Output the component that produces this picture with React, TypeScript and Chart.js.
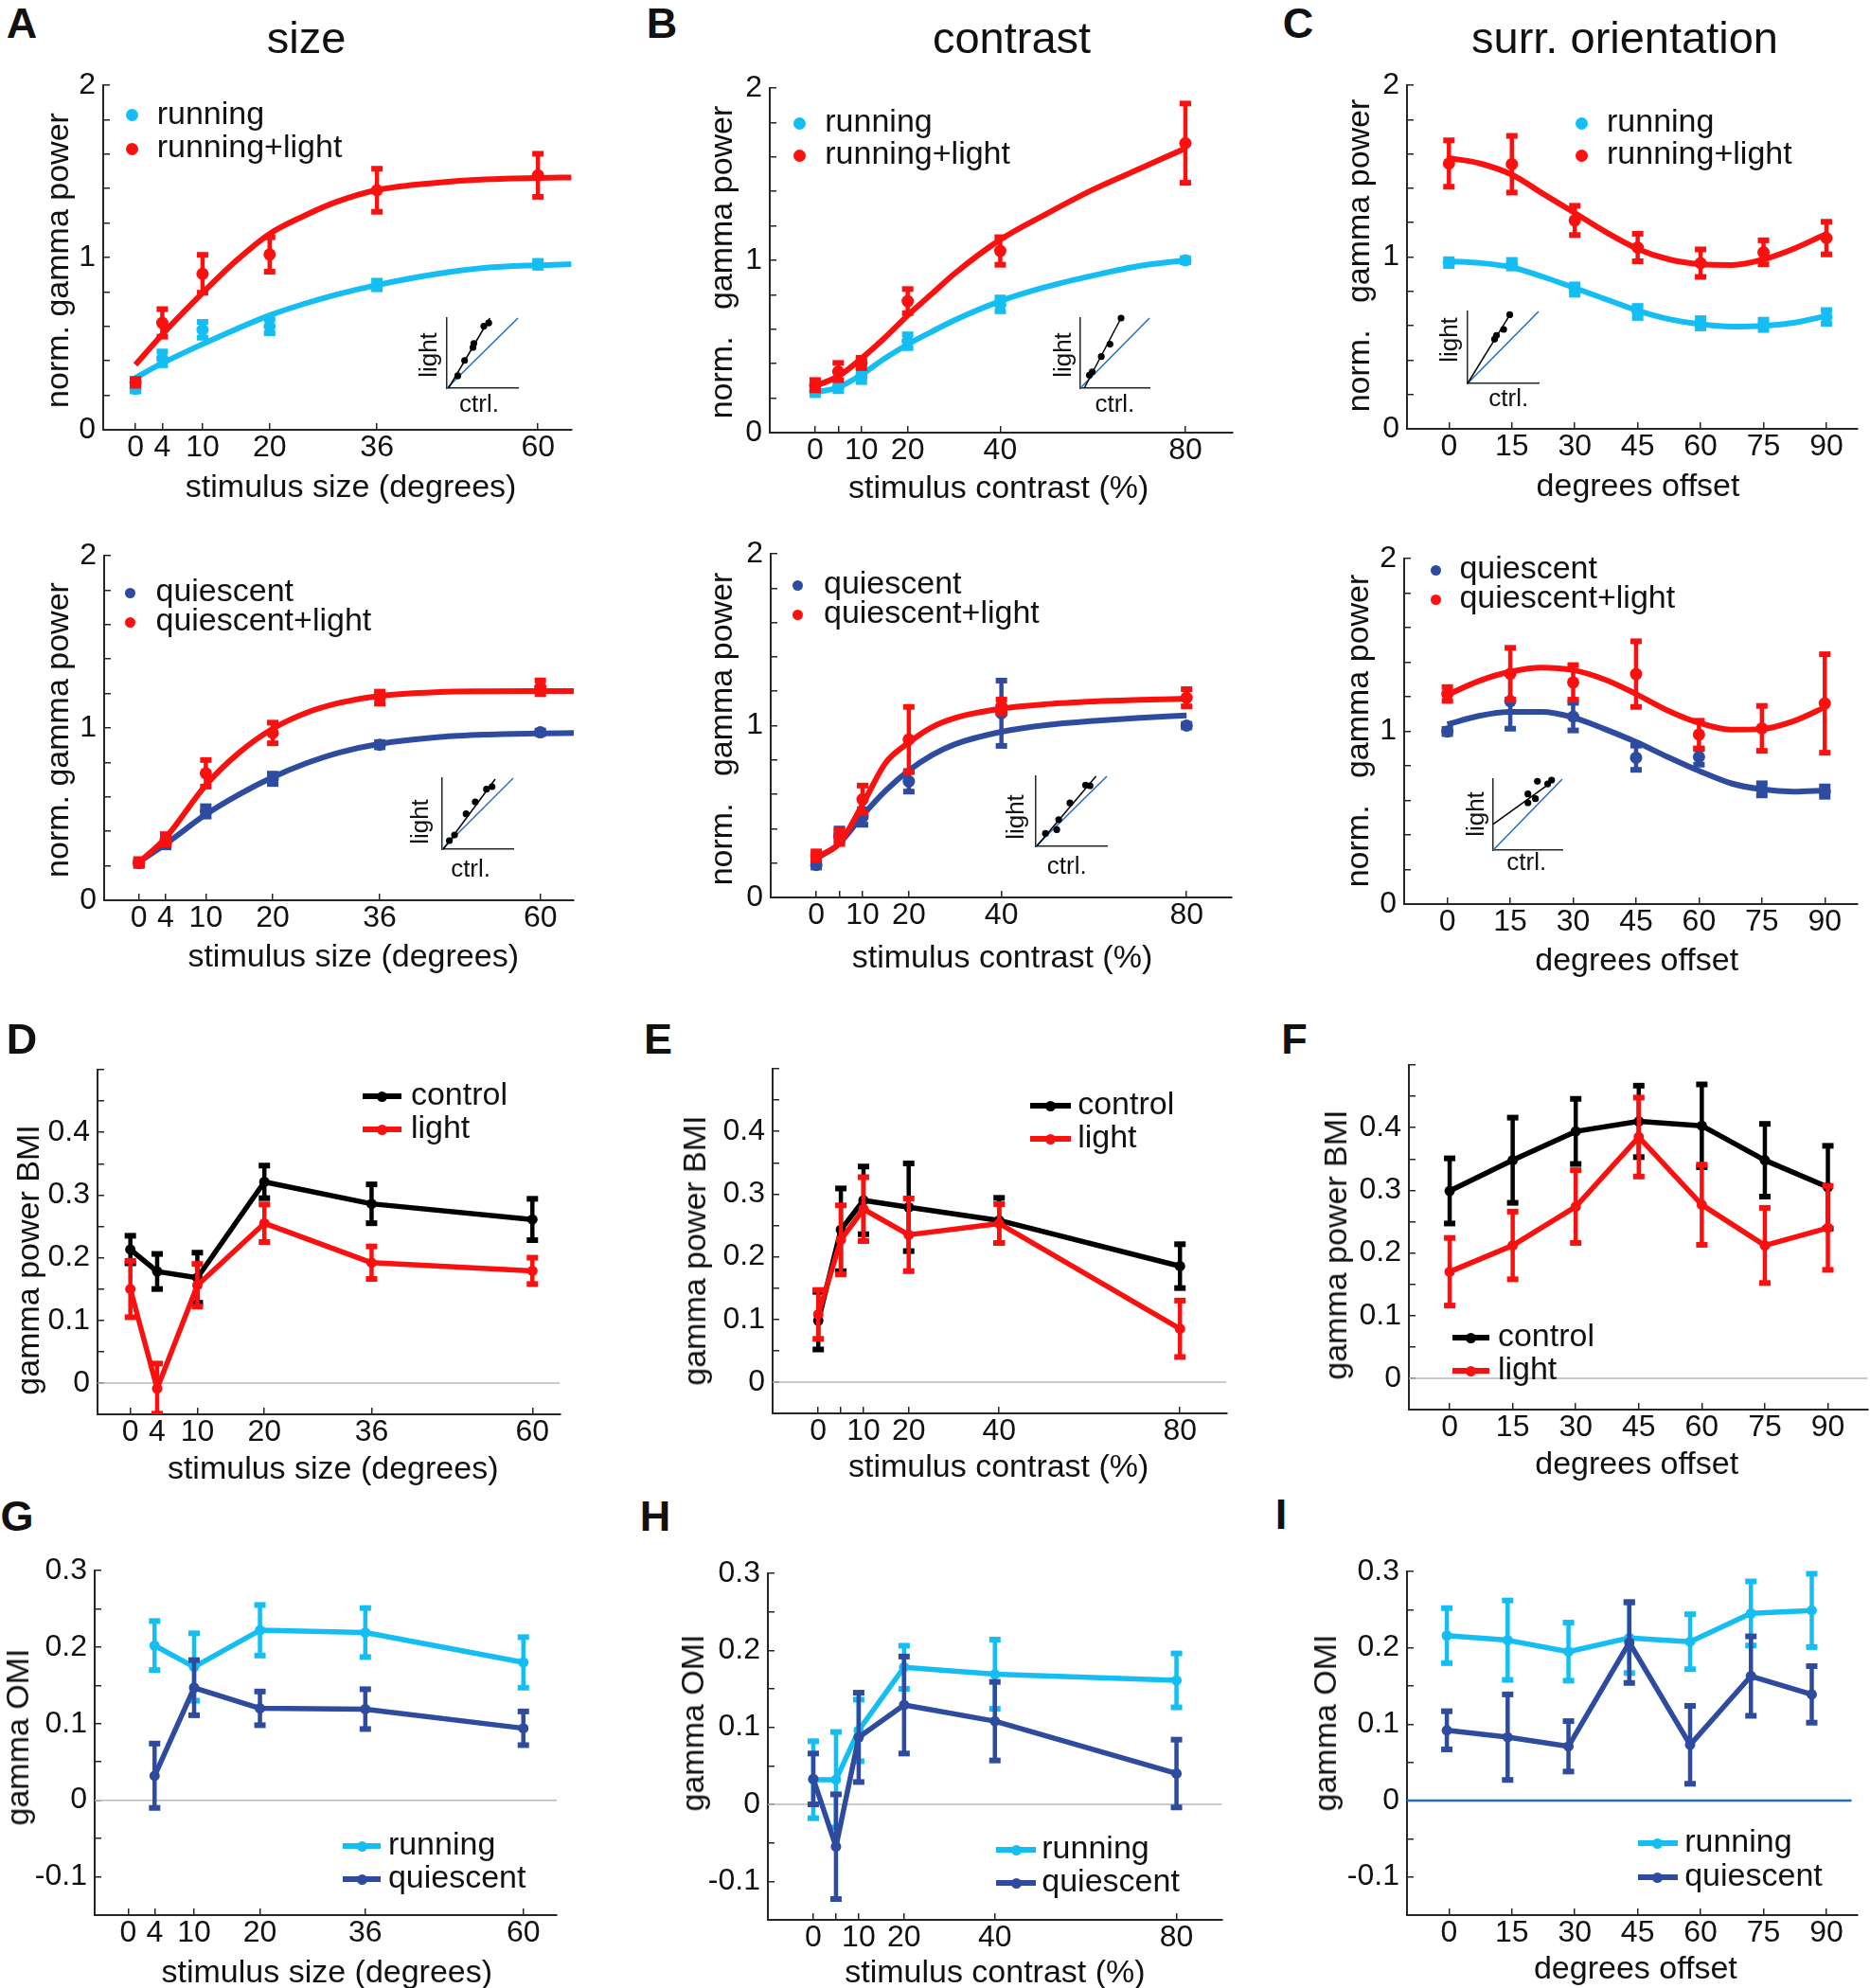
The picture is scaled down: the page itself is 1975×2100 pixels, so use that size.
import React, { useEffect, useRef } from 'react';
import { Chart, registerables } from 'chart.js';

Chart.register(...registerables);

const FONT = "'Liberation Sans', Arial, Helvetica, sans-serif";
const CYAN = '#14bef2';
const RED = '#fb1010';
const BLUE = '#2f4b9f';
const BLACK = '#000000';
const AXIS = '#262626';
const ZERO_GRAY = '#b8b8b8';
const UNITY_BLUE = '#1e6ec4';

// ---------------- data ----------------
const sizeX = [0, 4, 10, 20, 36, 60];
const sizeTickLabels = ['0', '4', '10', '20', '36', '60'];
const contrastX = [0, 5, 10, 20, 40, 80];
const contrastTickLabels = ['0', '', '10', '20', '40', '80'];
const orientX = [0, 15, 30, 45, 60, 75, 90];
const orientTickLabels = ['0', '15', '30', '45', '60', '75', '90'];
const zeroLine = [0, 0];

// A: running, size
const runSize = [0.237, 0.414, 0.58, 0.6, 0.84, 0.96];
const runSizeErr = [0.015, 0.04, 0.046, 0.04, 0.025, 0.02];
const runLightSize = [0.275, 0.62, 0.905, 1.017, 1.39, 1.477];
const runLightSizeErr = [0.02, 0.08, 0.11, 0.1, 0.125, 0.125];
const fitSizeX = [0, 4, 10, 15, 20, 25, 30, 36, 45, 52, 60, 65];
const runSizeFit = [0.302, 0.386, 0.497, 0.584, 0.664, 0.729, 0.785, 0.84, 0.905, 0.939, 0.955, 0.961];
const runLightSizeFit = [0.377, 0.553, 0.794, 0.98, 1.137, 1.239, 1.323, 1.391, 1.434, 1.453, 1.462, 1.464];

// B: running, contrast
const runContrast = [0.237, 0.26, 0.323, 0.53, 0.744, 1.0];
const runContrastErr = [0.02, 0.02, 0.03, 0.04, 0.04, 0.012];
const runLightContrast = [0.275, 0.354, 0.404, 0.763, 1.054, 1.68];
const runLightContrastErr = [0.03, 0.05, 0.03, 0.07, 0.08, 0.23];
const fitContrastX = [0, 5, 10, 15, 20, 25, 30, 40, 50, 60, 70, 80];
const runContrastFit = [0.234, 0.262, 0.336, 0.429, 0.512, 0.583, 0.651, 0.763, 0.846, 0.911, 0.967, 1.0];
const runLightContrastFit = [0.27, 0.327, 0.43, 0.549, 0.68, 0.8, 0.92, 1.12, 1.27, 1.41, 1.53, 1.65];

// C: running, surround orientation
const runOrient = [0.967, 0.958, 0.81, 0.68, 0.614, 0.605, 0.651];
const runOrientErr = [0.02, 0.025, 0.03, 0.035, 0.03, 0.03, 0.04];
const runLightOrient = [1.544, 1.54, 1.213, 1.055, 0.964, 1.027, 1.11];
const runLightOrientErr = [0.135, 0.165, 0.085, 0.08, 0.08, 0.07, 0.095];
const fitOrientX = [0, 7.5, 15, 22.5, 30, 37.5, 45, 52.5, 60, 67.5, 75, 82.5, 90];
const runOrientFit = [0.975, 0.965, 0.94, 0.884, 0.819, 0.753, 0.688, 0.638, 0.608, 0.595, 0.599, 0.618, 0.657];
const runLightOrientFit = [1.576, 1.544, 1.479, 1.367, 1.256, 1.144, 1.047, 0.986, 0.958, 0.953, 0.986, 1.051, 1.135];

// A2: quiescent, size
const quiSize = [0.216, 0.327, 0.516, 0.705, 0.903, 0.975];
const quiSizeErr = [0.012, 0.02, 0.03, 0.03, 0.015, 0.01];
const quiLightSize = [0.219, 0.354, 0.737, 0.971, 1.176, 1.236];
const quiLightSizeErr = [0.02, 0.03, 0.077, 0.06, 0.035, 0.04];
const quiSizeFit = [0.223, 0.327, 0.498, 0.615, 0.714, 0.795, 0.858, 0.908, 0.948, 0.962, 0.969, 0.971];
const quiLightSizeFit = [0.219, 0.363, 0.669, 0.858, 0.996, 1.088, 1.146, 1.187, 1.209, 1.213, 1.214, 1.214];

// B2: quiescent, contrast
const quiContrast = [0.189, 0.366, 0.468, 0.676, 1.072, 1.0];
const quiContrastErr = [0.015, 0.035, 0.045, 0.06, 0.19, 0.01];
const quiLightContrast = [0.243, 0.351, 0.571, 0.919, 1.112, 1.162];
const quiLightContrastErr = [0.025, 0.04, 0.08, 0.19, 0.04, 0.05];
const quiContrastFit = [0.225, 0.315, 0.477, 0.622, 0.739, 0.829, 0.892, 0.964, 1.004, 1.027, 1.045, 1.059];
const quiLightContrastFit = [0.234, 0.315, 0.541, 0.784, 0.901, 0.991, 1.045, 1.099, 1.126, 1.141, 1.15, 1.157];

// C2: quiescent, surround orientation
const quiOrient = [0.999, 1.175, 1.085, 0.847, 0.852, 0.664, 0.651];
const quiOrientErr = [0.015, 0.16, 0.08, 0.07, 0.045, 0.035, 0.03];
const quiLightOrient = [1.216, 1.333, 1.283, 1.331, 0.981, 1.017, 1.161];
const quiLightOrientErr = [0.04, 0.15, 0.1, 0.19, 0.08, 0.13, 0.285];
const quiOrientFit = [1.04, 1.089, 1.112, 1.112, 1.08, 1.013, 0.938, 0.852, 0.771, 0.7, 0.664, 0.651, 0.658];
const quiLightOrientFit = [1.211, 1.291, 1.345, 1.369, 1.354, 1.3, 1.216, 1.121, 1.049, 1.01, 1.013, 1.058, 1.139];

// D: gamma power BMI vs size
const bmiSizeCtrl = [0.213, 0.178, 0.168, 0.321, 0.286, 0.261];
const bmiSizeCtrlErr = [0.022, 0.028, 0.04, 0.026, 0.031, 0.033];
const bmiSizeLight = [0.15, -0.009, 0.156, 0.255, 0.192, 0.179];
const bmiSizeLightErr = [0.045, 0.04, 0.034, 0.03, 0.026, 0.021];

// E: gamma power BMI vs contrast
const bmiContrastCtrl = [0.098, 0.243, 0.29, 0.279, 0.258, 0.185];
const bmiContrastCtrlErr = [0.046, 0.066, 0.054, 0.07, 0.036, 0.035];
const bmiContrastLight = [0.108, 0.227, 0.276, 0.235, 0.253, 0.085];
const bmiContrastLightErr = [0.039, 0.055, 0.051, 0.058, 0.031, 0.045];

// F: gamma power BMI vs orientation
const bmiOrientCtrl = [0.299, 0.348, 0.394, 0.41, 0.403, 0.348, 0.305];
const bmiOrientCtrlErr = [0.052, 0.068, 0.052, 0.057, 0.066, 0.058, 0.066];
const bmiOrientLight = [0.17, 0.212, 0.274, 0.385, 0.277, 0.212, 0.24];
const bmiOrientLightErr = [0.054, 0.054, 0.058, 0.063, 0.064, 0.06, 0.067];

// G: gamma OMI vs size
const omiSizeX = [4, 10, 20, 36, 60];
const omiSizeRun = [0.202, 0.174, 0.222, 0.219, 0.18];
const omiSizeRunErr = [0.032, 0.044, 0.033, 0.032, 0.033];
const omiSizeQui = [0.032, 0.147, 0.12, 0.119, 0.094];
const omiSizeQuiErr = [0.042, 0.036, 0.022, 0.026, 0.022];

// H: gamma OMI vs contrast
const omiContrastRun = [0.032, 0.032, 0.096, 0.178, 0.169, 0.161];
const omiContrastRunErr = [0.05, 0.062, 0.04, 0.028, 0.045, 0.035];
const omiContrastQui = [0.033, -0.055, 0.087, 0.129, 0.108, 0.04];
const omiContrastQuiErr = [0.033, 0.068, 0.058, 0.063, 0.051, 0.044];

// I: gamma OMI vs orientation
const omiOrientX = [-0.5, 14, 28.5, 43, 57.5, 72, 86.5];
const omiOrientRun = [0.216, 0.21, 0.195, 0.213, 0.208, 0.245, 0.249];
const omiOrientRunErr = [0.036, 0.052, 0.038, 0.046, 0.036, 0.042, 0.048];
const omiOrientQui = [0.092, 0.083, 0.071, 0.207, 0.073, 0.163, 0.139];
const omiOrientQuiErr = [0.025, 0.056, 0.033, 0.053, 0.051, 0.052, 0.037];
const omiZeroX = [-10, 96];

// insets (light vs ctrl., normalised units)
const insetAX = [0.153, 0.249, 0.367, 0.379, 0.52, 0.588];
const insetAY = [0.177, 0.395, 0.581, 0.637, 0.884, 0.93];
const insetAFitX = [0.023, 0.605];
const insetAFitY = [0, 1];
const insetBX = [0.131, 0.171, 0.303, 0.429, 0.589];
const insetBY = [0.186, 0.233, 0.451, 0.628, 1.0];
const insetBFitX = [0.057, 0.589];
const insetBFitY = [0, 1];
const insetCX = [0.379, 0.407, 0.508, 0.593];
const insetCY = [0.614, 0.668, 0.75, 0.955];
const insetCFitX = [0, 0.605];
const insetCFitY = [0, 0.968];
const insetA2X = [0.101, 0.174, 0.337, 0.466, 0.624, 0.702];
const insetA2Y = [0.12, 0.2, 0.498, 0.667, 0.844, 0.88];
const insetA2FitX = [0.017, 0.747];
const insetA2FitY = [0, 0.987];
const insetB2X = [0.136, 0.294, 0.322, 0.48, 0.7, 0.763];
const insetB2Y = [0.184, 0.238, 0.381, 0.619, 0.874, 0.865];
const insetB2FitX = [0.011, 0.847];
const insetB2FitY = [0, 1];
const insetC2X = [0.503, 0.503, 0.611, 0.64, 0.789, 0.846];
const insetC2Y = [0.791, 0.667, 0.724, 0.969, 0.933, 0.987];
const insetC2FitX = [0, 0.857];
const insetC2FitY = [0.364, 0.964];
const unityLine = [0, 1];

// ---------------- plugin ----------------
const errorBarPlugin = {
  id: 'errbars',
  afterDatasetDraw(chart: any, args: any, opts: any) {
    const ds: any = chart.data.datasets[args.index];
    const err: number[] | undefined = ds.errorBars;
    if (!err) return;
    const { ctx, chartArea } = chart;
    const xs = chart.scales.x;
    const ys = chart.scales.y;
    ctx.save();
    ctx.beginPath();
    ctx.rect(chartArea.left, chartArea.top - 12, chartArea.right - chartArea.left, chartArea.bottom - chartArea.top + 12);
    ctx.clip();
    ctx.strokeStyle = ds.borderColor;
    ctx.fillStyle = ds.borderColor;
    ctx.lineWidth = opts.width || 4;
    const cw = opts.capW || 8;
    const ch = opts.capH || 5;
    ds.data.forEach((p: any, i: number) => {
      const e = err[i];
      if (!e) return;
      const px = xs.getPixelForValue(p.x);
      const yTop = ys.getPixelForValue(p.y + e);
      const yBot = ys.getPixelForValue(p.y - e);
      ctx.beginPath();
      ctx.moveTo(px, yTop);
      ctx.lineTo(px, yBot);
      ctx.stroke();
      ctx.fillRect(px - cw / 2, yTop - ch / 2, cw, ch);
      ctx.fillRect(px - cw / 2, yBot - ch / 2, cw, ch);
    });
    ctx.restore();
  },
};

// ---------------- panel definitions ----------------
type Kind = 'points' | 'line' | 'fit' | 'ref';
interface Series { x: number[]; y: number[]; err?: number[]; color: string; kind: Kind; width?: number; radius?: number }
interface PanelDef {
  rect: [number, number, number, number];
  xr: [number, number];
  yr: [number, number];
  xTicks: number[];
  xTickLabels: string[];
  yStep: number;
  yKind: 'int' | 'dec';
  yLabelMax: number;
  series: Series[];
}

const topPanel = (rect: [number, number, number, number], xr: [number, number], xTicks: number[], xTickLabels: string[], s: Series[]): PanelDef => ({
  rect, xr, yr: [0, 2], xTicks, xTickLabels, yStep: 0.2, yKind: 'int', yLabelMax: 2, series: s,
});

const PR_TOP = 6.5;
const PR_LOW = 5.5;

const panels: PanelDef[] = [
  topPanel([108.8, 82.6, 603.4, 453.5], [-4.81, 65], sizeX, sizeTickLabels, [
    { x: sizeX, y: runLightSize, err: runLightSizeErr, color: RED, kind: 'points', radius: PR_TOP },
    { x: fitSizeX, y: runLightSizeFit, color: RED, kind: 'fit', width: 6 },
    { x: sizeX, y: runSize, err: runSizeErr, color: CYAN, kind: 'points', radius: PR_TOP },
    { x: fitSizeX, y: runSizeFit, color: CYAN, kind: 'fit', width: 6 },
  ]),
  topPanel([813.1, 85.7, 1301.4, 456.6], [-9.8, 90.1], contrastX, contrastTickLabels, [
    { x: contrastX, y: runLightContrast, err: runLightContrastErr, color: RED, kind: 'points', radius: PR_TOP },
    { x: fitContrastX, y: runLightContrastFit, color: RED, kind: 'fit', width: 6 },
    { x: contrastX, y: runContrast, err: runContrastErr, color: CYAN, kind: 'points', radius: PR_TOP },
    { x: fitContrastX, y: runContrastFit, color: CYAN, kind: 'fit', width: 6 },
  ]),
  topPanel([1485.8, 82.6, 1962, 452.5], [-10, 97.5], orientX, orientTickLabels, [
    { x: orientX, y: runLightOrient, err: runLightOrientErr, color: RED, kind: 'points', radius: PR_TOP },
    { x: fitOrientX, y: runLightOrientFit, color: RED, kind: 'fit', width: 6 },
    { x: orientX, y: runOrient, err: runOrientErr, color: CYAN, kind: 'points', radius: PR_TOP },
    { x: fitOrientX, y: runOrientFit, color: CYAN, kind: 'fit', width: 6 },
  ]),
  topPanel([110, 580, 606, 951], [-5.2, 65], sizeX, sizeTickLabels, [
    { x: sizeX, y: quiLightSize, err: quiLightSizeErr, color: RED, kind: 'points', radius: PR_TOP },
    { x: fitSizeX, y: quiLightSizeFit, color: RED, kind: 'fit', width: 6 },
    { x: sizeX, y: quiSize, err: quiSizeErr, color: BLUE, kind: 'points', radius: PR_TOP },
    { x: fitSizeX, y: quiSizeFit, color: BLUE, kind: 'fit', width: 6 },
  ]),
  topPanel([814.3, 578, 1301.4, 948], [-9.84, 89.8], contrastX, contrastTickLabels, [
    { x: contrastX, y: quiLightContrast, err: quiLightContrastErr, color: RED, kind: 'points', radius: PR_TOP },
    { x: fitContrastX, y: quiLightContrastFit, color: RED, kind: 'fit', width: 6 },
    { x: contrastX, y: quiContrast, err: quiContrastErr, color: BLUE, kind: 'points', radius: PR_TOP },
    { x: fitContrastX, y: quiContrastFit, color: BLUE, kind: 'fit', width: 6 },
  ]),
  topPanel([1483.2, 583, 1962, 955], [-10.3, 97.8], orientX, orientTickLabels, [
    { x: orientX, y: quiLightOrient, err: quiLightOrientErr, color: RED, kind: 'points', radius: PR_TOP },
    { x: fitOrientX, y: quiLightOrientFit, color: RED, kind: 'fit', width: 6 },
    { x: orientX, y: quiOrient, err: quiOrientErr, color: BLUE, kind: 'points', radius: PR_TOP },
    { x: fitOrientX, y: quiOrientFit, color: BLUE, kind: 'fit', width: 6 },
  ]),
  {
    rect: [102.5, 1123, 590.8, 1494], xr: [-4.9, 64.1], yr: [-0.05, 0.5], xTicks: sizeX, xTickLabels: sizeTickLabels,
    yStep: 0.05, yKind: 'dec', yLabelMax: 0.4,
    series: [
      { x: sizeX, y: bmiSizeLight, err: bmiSizeLightErr, color: RED, kind: 'line', width: 5.5, radius: PR_LOW },
      { x: sizeX, y: bmiSizeCtrl, err: bmiSizeCtrlErr, color: BLACK, kind: 'line', width: 5.5, radius: PR_LOW },
      { x: [-4.9, 64.1], y: zeroLine, color: ZERO_GRAY, kind: 'ref', width: 1.5 },
    ],
  },
  {
    rect: [815.6, 1122, 1295, 1493], xr: [-10.1, 90.3], yr: [-0.05, 0.5], xTicks: contrastX, xTickLabels: contrastTickLabels,
    yStep: 0.05, yKind: 'dec', yLabelMax: 0.4,
    series: [
      { x: contrastX, y: bmiContrastLight, err: bmiContrastLightErr, color: RED, kind: 'line', width: 5.5, radius: PR_LOW },
      { x: contrastX, y: bmiContrastCtrl, err: bmiContrastCtrlErr, color: BLACK, kind: 'line', width: 5.5, radius: PR_LOW },
      { x: [-10.1, 90.3], y: zeroLine, color: ZERO_GRAY, kind: 'ref', width: 1.5 },
    ],
  },
  {
    rect: [1488.3, 1118, 1973, 1489], xr: [-9.7, 99.5], yr: [-0.05, 0.5], xTicks: orientX, xTickLabels: orientTickLabels,
    yStep: 0.05, yKind: 'dec', yLabelMax: 0.4,
    series: [
      { x: orientX, y: bmiOrientLight, err: bmiOrientLightErr, color: RED, kind: 'line', width: 5.5, radius: PR_LOW },
      { x: orientX, y: bmiOrientCtrl, err: bmiOrientCtrlErr, color: BLACK, kind: 'line', width: 5.5, radius: PR_LOW },
      { x: [-9.7, 99.5], y: zeroLine, color: ZERO_GRAY, kind: 'ref', width: 1.5 },
    ],
  },
  {
    rect: [100, 1652, 588.2, 2023], xr: [-5.1, 65.1], yr: [-0.15, 0.3], xTicks: sizeX, xTickLabels: sizeTickLabels,
    yStep: 0.05, yKind: 'dec', yLabelMax: 0.3,
    series: [
      { x: omiSizeX, y: omiSizeQui, err: omiSizeQuiErr, color: BLUE, kind: 'line', width: 5.5, radius: PR_LOW },
      { x: omiSizeX, y: omiSizeRun, err: omiSizeRunErr, color: CYAN, kind: 'line', width: 5.5, radius: PR_LOW },
      { x: [-5.1, 65.1], y: zeroLine, color: ZERO_GRAY, kind: 'ref', width: 1.5 },
    ],
  },
  {
    rect: [810.5, 1655, 1290, 2028], xr: [-10, 90], yr: [-0.15, 0.3], xTicks: contrastX, xTickLabels: contrastTickLabels,
    yStep: 0.05, yKind: 'dec', yLabelMax: 0.3,
    series: [
      { x: contrastX, y: omiContrastQui, err: omiContrastQuiErr, color: BLUE, kind: 'line', width: 5.5, radius: PR_LOW },
      { x: contrastX, y: omiContrastRun, err: omiContrastRunErr, color: CYAN, kind: 'line', width: 5.5, radius: PR_LOW },
      { x: [-10, 90], y: zeroLine, color: ZERO_GRAY, kind: 'ref', width: 1.5 },
    ],
  },
  {
    rect: [1485.8, 1653, 1962, 2023], xr: [-10, 97.5], yr: [-0.15, 0.3], xTicks: orientX, xTickLabels: orientTickLabels,
    yStep: 0.05, yKind: 'dec', yLabelMax: 0.3,
    series: [
      { x: omiOrientX, y: omiOrientQui, err: omiOrientQuiErr, color: BLUE, kind: 'line', width: 5.5, radius: PR_LOW },
      { x: omiOrientX, y: omiOrientRun, err: omiOrientRunErr, color: CYAN, kind: 'line', width: 5.5, radius: PR_LOW },
      { x: omiZeroX, y: zeroLine, color: UNITY_BLUE, kind: 'ref', width: 2.5 },
    ],
  },
];

interface InsetDef { rect: [number, number, number, number]; px: number[]; py: number[]; fx: number[]; fy: number[] }
const insets: InsetDef[] = [
  { rect: [471.8, 335.7, 546.5, 410.1], px: insetAX, py: insetAY, fx: insetAFitX, fy: insetAFitY },
  { rect: [1140.7, 335.7, 1214.1, 410.1], px: insetBX, py: insetBY, fx: insetBFitX, fy: insetBFitY },
  { rect: [1550.3, 328.5, 1624.9, 404.9], px: insetCX, py: insetCY, fx: insetCFitX, fy: insetCFitY },
  { rect: [466.8, 822, 541.4, 897], px: insetA2X, py: insetA2Y, fx: insetA2FitX, fy: insetA2FitY },
  { rect: [1093.9, 820, 1168.5, 894], px: insetB2X, py: insetB2Y, fx: insetB2FitX, fy: insetB2FitY },
  { rect: [1576.9, 823, 1650.3, 898], px: insetC2X, py: insetC2Y, fx: insetC2FitX, fy: insetC2FitY },
];

// ---------------- components ----------------
const YW = 80;
const XH = 54;
const PT = 24;
const PR = 10;
const TICK_FONT = { family: FONT, size: 32, lineHeight: 1 };

function PanelChart({ def }: { def: PanelDef }) {
  const ref = useRef<HTMLCanvasElement>(null);
  const [L, T, R, B] = def.rect;
  const w = Math.round(YW + (R - L) + PR);
  const h = Math.round(PT + (B - T) + XH);
  useEffect(() => {
    const datasets = def.series.map((s) => ({
      data: s.x.map((x, i) => ({ x, y: s.y[i] })),
      borderColor: s.color,
      backgroundColor: s.color,
      pointBackgroundColor: s.color,
      pointBorderWidth: 0,
      pointRadius: s.kind === 'points' || s.kind === 'line' ? s.radius || 5 : 0,
      pointHoverRadius: 0,
      showLine: s.kind !== 'points',
      borderWidth: s.width || 0,
      tension: s.kind === 'fit' ? 0.4 : 0,
      cubicInterpolationMode: s.kind === 'fit' ? 'monotone' : 'default',
      borderJoinStyle: 'round',
      errorBars: s.err,
    }));
    const yLabel = (v: number) => {
      if (v > def.yLabelMax + 1e-9) return '';
      if (def.yKind === 'int') {
        const r = Math.round(v);
        return Math.abs(v - r) < 1e-6 ? String(r) : '';
      }
      const r10 = Math.round(v * 10);
      return Math.abs(v * 10 - r10) < 1e-6 ? String(r10 / 10) : '';
    };
    const gridOpts = { drawOnChartArea: false, drawTicks: true, tickLength: -7, color: AXIS, lineWidth: 1.5 };
    const chart = new Chart(ref.current as HTMLCanvasElement, {
      type: 'scatter',
      data: { datasets: datasets as any },
      options: {
        animation: false,
        responsive: false,
        devicePixelRatio: 1,
        events: [],
        layout: { padding: { left: 0, top: PT, right: w - YW - (R - L), bottom: 0 }, autoPadding: false },
        plugins: {
          legend: { display: false },
          tooltip: { enabled: false },
          errbars: { width: 4.5, capW: 12, capH: 6 },
        } as any,
        scales: {
          x: {
            type: 'linear',
            min: def.xr[0],
            max: def.xr[1],
            afterBuildTicks: (sc: any) => {
              sc.ticks = def.xTicks.map((v) => ({ value: v }));
            },
            afterFit: (sc: any) => {
              sc.height = h - PT - (B - T);
            },
            grid: gridOpts,
            border: { display: true, color: AXIS, width: 2 },
            ticks: {
              autoSkip: false,
              maxRotation: 0,
              minRotation: 0,
              padding: 10,
              color: '#111',
              font: TICK_FONT,
              callback: (_v: any, i: number) => def.xTickLabels[i] ?? '',
            },
          },
          y: {
            type: 'linear',
            min: def.yr[0],
            max: def.yr[1],
            afterFit: (sc: any) => {
              sc.width = YW;
            },
            grid: gridOpts,
            border: { display: true, color: AXIS, width: 2 },
            ticks: {
              stepSize: def.yStep,
              autoSkip: false,
              padding: 15,
              color: '#111',
              font: TICK_FONT,
              callback: (v: any) => yLabel(Number(v)),
            },
          },
        } as any,
      },
      plugins: [errorBarPlugin as any],
    });
    return () => chart.destroy();
  }, []);
  return (
    <canvas
      ref={ref}
      width={w}
      height={h}
      style={{ position: 'absolute', left: L - YW, top: T - PT, width: w, height: h }}
    />
  );
}

function InsetChart({ def }: { def: InsetDef }) {
  const ref = useRef<HTMLCanvasElement>(null);
  const P = 6;
  const [L, T, R, B] = def.rect;
  const w = Math.round(R - L + 2 * P);
  const h = Math.round(B - T + 2 * P);
  useEffect(() => {
    const axisOpts = (isX: boolean) => ({
      type: 'linear',
      min: 0,
      max: 1,
      display: true,
      grid: { display: false },
      ticks: { display: false },
      border: { display: true, color: AXIS, width: 1.5 },
      afterFit: (sc: any) => {
        if (isX) sc.height = 0;
        else sc.width = 0;
      },
    });
    const chart = new Chart(ref.current as HTMLCanvasElement, {
      type: 'scatter',
      data: {
        datasets: [
          {
            data: def.px.map((x, i) => ({ x, y: def.py[i] })),
            pointRadius: 3.6,
            pointBackgroundColor: BLACK,
            pointBorderWidth: 0,
            showLine: false,
            clip: false,
          },
          {
            data: def.fx.map((x, i) => ({ x, y: def.fy[i] })),
            borderColor: BLACK,
            borderWidth: 1.5,
            pointRadius: 0,
            showLine: true,
            clip: false,
          },
          {
            data: unityLine.map((x, i) => ({ x, y: unityLine[i] })),
            borderColor: UNITY_BLUE,
            borderWidth: 1.5,
            pointRadius: 0,
            showLine: true,
            clip: false,
          },
        ] as any,
      },
      options: {
        animation: false,
        responsive: false,
        devicePixelRatio: 1,
        events: [],
        layout: { padding: P, autoPadding: false },
        plugins: { legend: { display: false }, tooltip: { enabled: false } },
        scales: { x: axisOpts(true), y: axisOpts(false) } as any,
      },
    });
    return () => chart.destroy();
  }, []);
  return (
    <canvas
      ref={ref}
      width={w}
      height={h}
      style={{ position: 'absolute', left: L - P, top: T - P, width: w, height: h }}
    />
  );
}

interface TxtProps { x: number; y: number; s: string; size: number; bold?: boolean; rot?: boolean; left?: boolean }
function Txt({ x, y, s, size, bold = false, rot = false, left = false }: TxtProps) {
  const transform = left ? 'translateY(-50%)' : `translate(-50%, -50%)${rot ? ' rotate(-90deg)' : ''}`;
  return (
    <div
      style={{
        position: 'absolute',
        left: x,
        top: y,
        fontSize: size,
        lineHeight: 1,
        fontWeight: bold ? 700 : 400,
        whiteSpace: 'pre',
        transform,
        transformOrigin: 'center center',
      }}
    >
      {s}
    </div>
  );
}

function Dot({ x, y, d, color }: { x: number; y: number; d: number; color: string }) {
  return (
    <div style={{ position: 'absolute', left: x - d / 2, top: y - d / 2, width: d, height: d, borderRadius: '50%', background: color }} />
  );
}

function LineKey({ x1, x2, y, color }: { x1: number; x2: number; y: number; color: string }) {
  return (
    <>
      <div style={{ position: 'absolute', left: x1, top: y - 2.75, width: x2 - x1, height: 5.5, background: color }} />
      <Dot x={(x1 + x2) / 2} y={y} d={11} color={color} />
    </>
  );
}

const letters: [string, number, number][] = [
  ['A', 23, 24], ['B', 699, 24], ['C', 1371, 24],
  ['D', 23, 1097], ['E', 695, 1097], ['F', 1367, 1097],
  ['G', 18, 1601], ['H', 692, 1601], ['I', 1353, 1599],
];
const colTitles: [string, number, number][] = [
  ['size', 323.5, 39], ['contrast', 1068.5, 39], ['surr. orientation', 1716, 39],
];
const xTitles: [string, number, number][] = [
  ['stimulus size (degrees)', 370.6, 513], ['stimulus contrast (%)', 1054.7, 514], ['degrees offset', 1730, 512],
  ['stimulus size (degrees)', 373.2, 1009], ['stimulus contrast (%)', 1058.5, 1010], ['degrees offset', 1728.7, 1013],
  ['stimulus size (degrees)', 351.7, 1550], ['stimulus contrast (%)', 1054.7, 1548], ['degrees offset', 1728.7, 1545],
  ['stimulus size (degrees)', 345.3, 2082], ['stimulus contrast (%)', 1050.9, 2082], ['degrees offset', 1727.4, 2078],
];
const yTitles: [string, number, number][] = [
  ['norm. gamma power', 59.5, 275], ['norm.   gamma power', 761.2, 277], ['norm.   gamma power', 1433.9, 270],
  ['norm. gamma power', 59.5, 771], ['norm.   gamma power', 761.2, 770], ['norm.   gamma power', 1432.7, 772],
  ['gamma power BMI', 29.1, 1331], ['gamma power BMI', 733.4, 1321], ['gamma power BMI', 1409.9, 1315],
  ['gamma OMI', 17.5, 1835], ['gamma OMI', 730.9, 1820], ['gamma OMI', 1398.5, 1820],
];
const dotLegends: [string, string, number, number, number, number][] = [
  ['running', CYAN, 139.2, 165.7, 121.9, 13], ['running+light', RED, 139.2, 165.7, 157, 13],
  ['running', CYAN, 844.7, 871.3, 130.2, 13], ['running+light', RED, 844.7, 871.3, 164.2, 13],
  ['running', CYAN, 1670.5, 1697, 130.2, 13], ['running+light', RED, 1670.5, 1697, 164.2, 13],
  ['quiescent', BLUE, 137.9, 164.5, 626, 11], ['quiescent+light', RED, 137.9, 164.5, 657, 11],
  ['quiescent', BLUE, 842.2, 870, 618, 11], ['quiescent+light', RED, 842.2, 870, 649, 11],
  ['quiescent', BLUE, 1516.1, 1541.4, 602, 11], ['quiescent+light', RED, 1516.1, 1541.4, 633, 11],
];
const lineLegends: [string, string, number, number, number, number][] = [
  ['control', BLACK, 383.3, 423.8, 433.9, 1158], ['light', RED, 383.3, 423.8, 433.9, 1193],
  ['control', BLACK, 1087.6, 1130.6, 1138.2, 1168], ['light', RED, 1087.6, 1130.6, 1138.2, 1203],
  ['control', BLACK, 1533.8, 1573, 1581.9, 1413], ['light', RED, 1533.8, 1573, 1581.9, 1448],
  ['running', CYAN, 361.8, 402.3, 409.9, 1950], ['quiescent', BLUE, 361.8, 402.3, 409.9, 1985],
  ['running', CYAN, 1052.2, 1093.9, 1100.3, 1954], ['quiescent', BLUE, 1052.2, 1093.9, 1100.3, 1989],
  ['running', CYAN, 1729.9, 1771.7, 1779.2, 1947], ['quiescent', BLUE, 1729.9, 1771.7, 1779.2, 1983],
];
const insetLabels: [number, number, number, number][] = [
  [451.6, 375, 506, 425.6], [1121.7, 375, 1177.4, 425.6], [1530, 358.5, 1593.3, 420.4],
  [442.8, 868, 497.1, 917], [1072.4, 863, 1126.8, 914], [1557.9, 860, 1612.3, 910],
];

export default function App() {
  return (
    <div
      style={{
        position: 'absolute',
        left: 0,
        top: 0,
        width: 1975,
        height: 2100,
        background: '#ffffff',
        overflow: 'hidden',
        fontFamily: FONT,
        color: '#111',
      }}
    >
      {panels.map((p, i) => (
        <PanelChart key={'p' + i} def={p} />
      ))}
      {insets.map((p, i) => (
        <InsetChart key={'i' + i} def={p} />
      ))}
      {letters.map(([s, x, y]) => (
        <Txt key={'l' + s} x={x} y={y} s={s} size={45} bold />
      ))}
      {colTitles.map(([s, x, y]) => (
        <Txt key={'c' + s} x={x} y={y} s={s} size={47} />
      ))}
      {xTitles.map(([s, x, y], i) => (
        <Txt key={'x' + i} x={x} y={y} s={s} size={34} />
      ))}
      {yTitles.map(([s, x, y], i) => (
        <Txt key={'y' + i} x={x} y={y} s={s} size={34} rot />
      ))}
      {dotLegends.map(([s, c, dx, tx, y, d], i) => (
        <React.Fragment key={'d' + i}>
          <Dot x={dx} y={y} d={d} color={c} />
          <Txt x={tx} y={y - 3} s={s} size={34} left />
        </React.Fragment>
      ))}
      {lineLegends.map(([s, c, x1, x2, tx, y], i) => (
        <React.Fragment key={'k' + i}>
          <LineKey x1={x1} x2={x2} y={y} color={c} />
          <Txt x={tx} y={y - 3} s={s} size={34} left />
        </React.Fragment>
      ))}
      {insetLabels.map(([lx, ly, cx, cy], i) => (
        <React.Fragment key={'n' + i}>
          <Txt x={lx} y={ly} s="light" size={26} rot />
          <Txt x={cx} y={cy} s="ctrl." size={26} />
        </React.Fragment>
      ))}
    </div>
  );
}
